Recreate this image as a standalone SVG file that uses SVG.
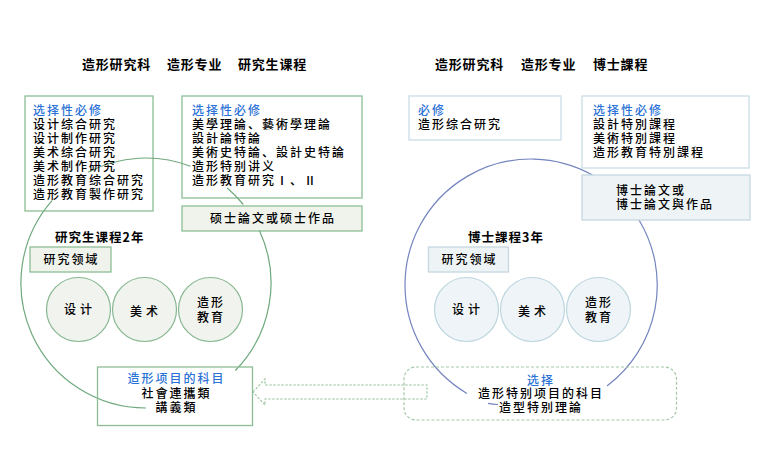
<svg xmlns="http://www.w3.org/2000/svg" width="765" height="454" viewBox="0 0 765 454">
<style>
text{font-family:"Noto Sans CJK SC","Noto Sans CJK JP",sans-serif;fill:#000;font-size:12px;font-weight:500;letter-spacing:2px}
.t{font-size:13px;font-weight:bold;letter-spacing:0.8px}
.b{fill:#2a72d6}
.lab{font-size:12.5px;font-weight:bold;letter-spacing:1px}
.c{text-anchor:middle}
.gb{fill:#fff;stroke:#8dbd95;stroke-width:1.3}
.gf{fill:#eff3ec;stroke:#8dbd95;stroke-width:1.3}
.gc{fill:#f0f3ee;stroke:#86b790;stroke-width:1.2}
.bb{fill:#fff;stroke:#c9dde6;stroke-width:1.3}
.bf{fill:#eef4f6;stroke:#c5d8e0;stroke-width:1.3}
.bc{fill:#eef4f7;stroke:#bcd5de;stroke-width:1.2}
.arcG{fill:none;stroke:#6fa97d;stroke-width:1.2}
.arcB{fill:none;stroke:#7384bf;stroke-width:1.2}
</style>
<rect width="765" height="454" fill="#fff"/>

<g id="titles">
<text class="t" x="82" y="69">造形研究科</text>
<text class="t" x="167" y="69">造形专业</text>
<text class="t" x="238" y="69">研究生课程</text>
<text class="t" x="435" y="69">造形研究科</text>
<text class="t" x="521" y="69">造形专业</text>
<text class="t" x="593" y="69">博士課程</text>
</g>

<g id="m-elective">
<rect class="gb" x="25" y="96" width="128" height="115"/>
</g>
<g id="m-elective2">
<rect class="gb" x="182" y="96" width="180" height="102"/>
</g>
<g id="m-thesis">
<rect class="gf" x="182" y="206" width="180" height="25"/>
<text class="c" x="273" y="223">硕士論文或硕士作品</text>
</g>

<g id="d-required">
<rect class="bb" x="409" y="96" width="152" height="44"/>
<text class="b" x="418" y="114.5">必修</text>
<text x="418" y="128.5">造形综合研究</text>
</g>
<g id="d-elective">
<rect class="bb" x="582" y="96" width="167" height="72"/>
<text class="b" x="593" y="114.5">选择性必修</text>
<text x="593" y="128.5">設計特別課程</text>
<text x="593" y="142.5">美術特別課程</text>
<text x="593" y="156.5">造形教育特別課程</text>
</g>

<g id="master-course">
<path class="arcG" d="M146,408 A125,125 0 0 1 52.2,200.3"/>
<path class="arcG" d="M88.1,172.2 A125,125 0 0 1 190.4,166.2"/>
<path class="arcG" d="M227.2,188 A125,125 0 0 1 243.3,204.5"/>
<path class="arcG" d="M259.4,230.4 A125,125 0 0 1 235.3,370.5"/>
</g>
<g id="doctor-course">
<path class="arcB" d="M466.9,393.4 A126,126 0 0 1 405,285 A126,126 0 0 1 592.4,175"/>
<path class="arcB" d="M639,220 A126,126 0 0 1 607,386"/>
<path class="arcB" d="M488,403.4 A126,126 0 0 0 498,404.5"/>
</g>

<g id="d-thesis">
<rect class="bf" x="582" y="175" width="168" height="45"/>
<text x="616" y="194.5">博士論文或</text>
<text x="616" y="208.5">博士論文與作品</text>
</g>

<g id="m-elective-text">
<text class="b" x="33" y="114.5">选择性必修</text>
<text x="33" y="128.5">设计综合研究</text>
<text x="33" y="142.5">设计制作研究</text>
<text x="33" y="156.5">美术综合研究</text>
<text x="33" y="170.5">美术制作研究</text>
<text x="33" y="184.5">造形教育综合研究</text>
<text x="33" y="198.5">造形教育製作研究</text>
</g>
<g id="m-elective2-text">
<text class="b" x="192" y="114.5">选择性必修</text>
<text x="192" y="128.5">美學理論、藝術學理論</text>
<text x="192" y="142.5">設計論特論</text>
<text x="192" y="156.5">美術史特論、設計史特論</text>
<text x="192" y="170.5">造形特别讲义</text>
<text x="192" y="184.5">造形教育研究Ⅰ、Ⅱ</text>
</g>

<g id="m-label">
<text class="lab" x="55" y="241.5">研究生课程2年</text>
</g>
<g id="m-field">
<rect class="gf" x="30" y="247" width="81" height="25"/>
<text class="c" x="71.5" y="264">研究领域</text>
</g>
<g id="m-design">
<circle class="gc" cx="78.5" cy="309.5" r="32"/>
<text class="c" x="80" y="314" style="letter-spacing:4px">设计</text>
</g>
<g id="m-art">
<circle class="gc" cx="144.5" cy="309.5" r="32"/>
<text class="c" x="146" y="316" style="letter-spacing:4px">美术</text>
</g>
<g id="m-edu">
<circle class="gc" cx="210.5" cy="309.5" r="32"/>
<text class="c" x="211" y="307">造形</text>
<text class="c" x="211" y="322">教育</text>
</g>

<g id="d-label">
<text class="lab" x="468" y="241.5">博士課程3年</text>
</g>
<g id="d-field">
<rect class="bf" x="428.5" y="247" width="80" height="25"/>
<text class="c" x="469.5" y="264">研究领域</text>
</g>
<g id="d-design">
<circle class="bc" cx="466.5" cy="309.5" r="32"/>
<text class="c" x="468" y="314" style="letter-spacing:4px">设计</text>
</g>
<g id="d-art">
<circle class="bc" cx="532.5" cy="309.5" r="32"/>
<text class="c" x="534" y="316" style="letter-spacing:4px">美术</text>
</g>
<g id="d-edu">
<circle class="bc" cx="598.5" cy="309.5" r="32"/>
<text class="c" x="599" y="307">造形</text>
<text class="c" x="599" y="322">教育</text>
</g>

<g id="m-project">
<rect x="97.5" y="367" width="155" height="58.5" fill="none" stroke="#8dbd95" stroke-width="1.3"/>
<text class="c b" x="176.5" y="383">造形项目的科目</text>
<text class="c" x="176.5" y="397.5">社會連攜類</text>
<text class="c" x="176.5" y="411.5">講義類</text>
</g>
<g id="d-project">
<rect x="404" y="367" width="272.5" height="53" rx="12" fill="none" stroke="#a4c7a6" stroke-width="1.2" stroke-dasharray="3 2"/>
<text class="c b" x="541" y="384.5">选择</text>
<text class="c" x="541" y="397.5">造形特别项目的科目</text>
<text class="c" x="541" y="412">造型特别理論</text>
</g>

<g id="connectors">
<polygon points="253,392 265,379 265,385 427,385 427,399 265,399 265,405" fill="none" stroke="#9dc4a0" stroke-width="1.1" stroke-dasharray="2.5 1.5"/>
</g>
</svg>
